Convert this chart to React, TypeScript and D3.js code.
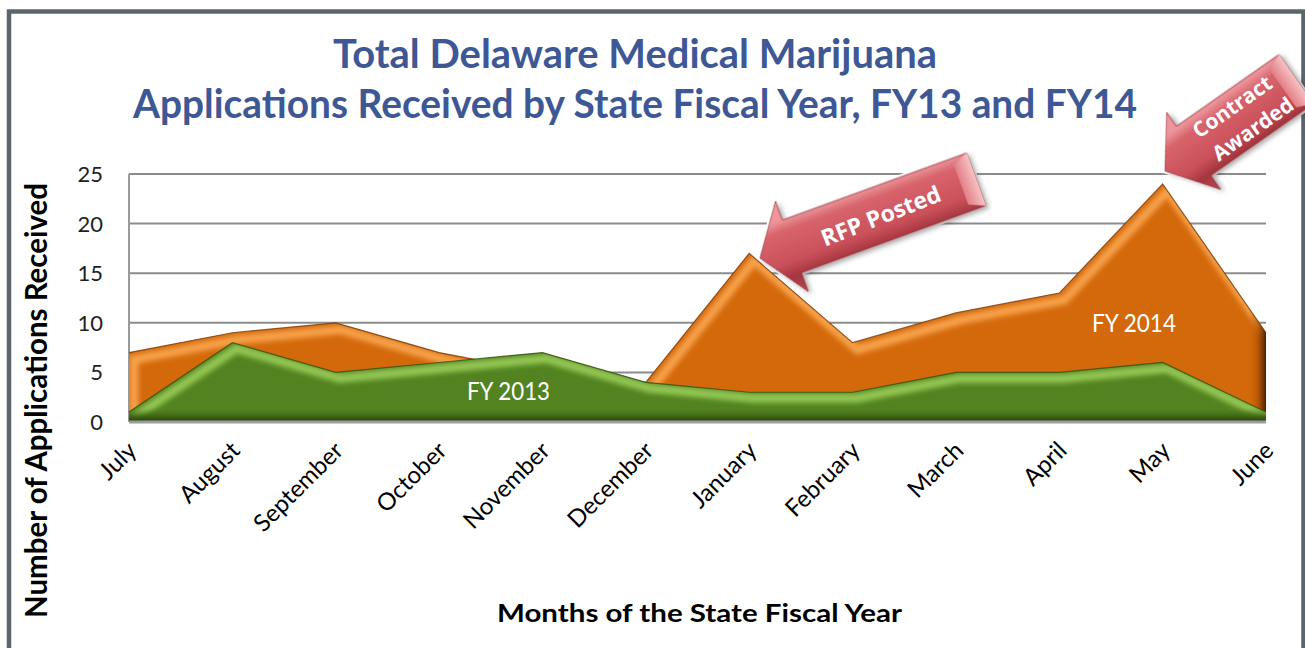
import * as d3 from "d3";

const months = [
  "July", "August", "September", "October", "November", "December",
  "January", "February", "March", "April", "May", "June",
];
const fy2013 = [1, 8, 5, 6, 7, 4, 3, 3, 5, 5, 6, 1];
const fy2014 = [7, 9, 10, 7, 5, 4, 17, 8, 11, 13, 24, 9];
const yTicks = [0, 5, 10, 15, 20, 25];
const titleLines = [
  "Total Delaware Medical Marijuana",
  "Applications Received by State Fiscal Year, FY13 and FY14",
];

const W = 1305;
const H = 648;

const x = d3.scalePoint<string>().domain(months).range([129, 1266]);
const y = d3.scaleLinear().domain([0, 25]).range([422, 174]);

const area = d3
  .area<number>()
  .x((d, i) => x(months[i])!)
  .y0(y(0))
  .y1(d => y(d));

// top edge plus the left side, used for the bevel highlight
const edge = (vals: number[]) =>
  d3.line()([[x(months[0])!, y(0)], ...vals.map((v, i) => [x(months[i])!, y(v)] as [number, number])]);

const topLine = d3
  .line<number>()
  .x((d, i) => x(months[i])!)
  .y(d => y(d));

const Arrow = ({ tx, ty, angle, len, half, barb, head, children }: any) => {
  const body = `M0,0 L${head},${-barb} L${head},${-half} L${len},${-half} L${len},${half} L${head},${half} L${head},${barb} Z`;
  const facet = `M${len - 16},${-half + 7} L${len},${-half} L${len},${half} L${len - 16},${half - 7} Z`;
  return (
    <g transform={`translate(${tx},${ty}) rotate(${angle})`}>
      <path d={body} fill="#fff" stroke="#fff" strokeWidth={5} />
      <g filter="url(#shadow)">
        <path d={body} fill="url(#arrowGrad)" stroke="#9a3640" strokeWidth={0.8} />
        <path d={facet} fill="url(#facetGrad)" />
      </g>
      {children}
    </g>
  );
};

export default function App() {
  const x0 = x(months[0])!;
  const x1 = x(months[months.length - 1])!;
  return (
    <svg
      width={W}
      height={H}
      style={{ position: "absolute", left: 0, top: 0, background: "#fff" }}
      fontFamily="Lato, 'Open Sans', sans-serif"
    >
      <defs>
        <filter id="blur" x="-5%" y="-20%" width="110%" height="140%">
          <feGaussianBlur stdDeviation="2.6" />
        </filter>
        <filter id="shadow" x="-20%" y="-30%" width="140%" height="160%">
          <feDropShadow dx="2" dy="3" stdDeviation="2.5" floodColor="#000" floodOpacity="0.35" />
        </filter>
        <clipPath id="clipOrange">
          <path d={area(fy2014)!} />
        </clipPath>
        <clipPath id="clipGreen">
          <path d={area(fy2013)!} />
        </clipPath>
        <linearGradient id="sideOrange" x1="0" y1="0" x2="1" y2="0">
          <stop offset="0" stopColor="#d4690b" stopOpacity="0" />
          <stop offset="0.55" stopColor="#a84c04" stopOpacity="0.7" />
          <stop offset="1" stopColor="#4a1f00" stopOpacity="1" />
        </linearGradient>
        <linearGradient id="bottomGreen" x1="0" y1="0" x2="0" y2="1">
          <stop offset="0" stopColor="#4d7c1b" stopOpacity="0" />
          <stop offset="0.6" stopColor="#3a5f12" stopOpacity="0.9" />
          <stop offset="1" stopColor="#243d08" stopOpacity="1" />
        </linearGradient>
        <linearGradient id="arrowGrad" x1="0" y1="0" x2="0" y2="1">
          <stop offset="0.2" stopColor="#ec959a" />
          <stop offset="0.32" stopColor="#d8646c" />
          <stop offset="0.65" stopColor="#c9505a" />
          <stop offset="0.8" stopColor="#a4363f" />
          <stop offset="1" stopColor="#b8464f" />
        </linearGradient>
        <linearGradient id="facetGrad" x1="0" y1="0" x2="1" y2="0">
          <stop offset="0" stopColor="#e27f86" />
          <stop offset="1" stopColor="#f7c0c3" />
        </linearGradient>
      </defs>

      {/* frame */}
      <rect x={9} y={11.5} width={1294.5} height={700} fill="#fff" stroke="#5b656c" strokeWidth={4.5} />

      {/* title */}
      <g fill="#3e5795" fontWeight="bold" fontSize={40} textAnchor="middle">
        <text x={635} y={68} textLength={604} lengthAdjust="spacingAndGlyphs">{titleLines[0]}</text>
        <text x={635} y={118} textLength={1004} lengthAdjust="spacingAndGlyphs">{titleLines[1]}</text>
      </g>

      {/* gridlines */}
      {yTicks.filter(t => t > 0).map(t => (
        <line key={t} x1={x0} x2={x1} y1={y(t)} y2={y(t)} stroke="#8c8c8c" strokeWidth={2} />
      ))}
      <line x1={x0} x2={x0} y1={y(25)} y2={y(0)} stroke="#9a9a9a" strokeWidth={2} />

      {/* FY 2014, back series */}
      <path d={area(fy2014)!} fill="#d4690b" />
      <g clipPath="url(#clipOrange)">
        <path d={edge(fy2014)!} transform="translate(5,7)" fill="none" stroke="#f6a04a" strokeWidth={9} filter="url(#blur)" />
        <rect x={x1 - 18} y={y(25)} width={18} height={y(0) - y(25)} fill="url(#sideOrange)" />
      </g>
      <path d={topLine(fy2014)!} fill="none" stroke="#7a3a06" strokeWidth={1.2} strokeOpacity={0.8} />

      {/* FY 2013, front series */}
      <path d={area(fy2013)!} fill="#528320" />
      <g clipPath="url(#clipGreen)">
        <path d={edge(fy2013)!} transform="translate(4,6)" fill="none" stroke="#93c653" strokeWidth={9} filter="url(#blur)" />
        <rect x={x0} y={y(0) - 14} width={x1 - x0} height={14} fill="url(#bottomGreen)" />
      </g>
      <path d={topLine(fy2013)!} fill="none" stroke="#33520c" strokeWidth={1.2} strokeOpacity={0.8} />

      {/* floor */}
      <line x1={x0} x2={x1} y1={y(0)} y2={y(0)} stroke="#9c9c9c" strokeWidth={3} />

      {/* series labels */}
      <text x={467} y={400} fill="#fff" fontSize={25} textLength={83} lengthAdjust="spacingAndGlyphs">FY 2013</text>
      <text x={1092} y={332} fill="#fff" fontSize={25} textLength={84} lengthAdjust="spacingAndGlyphs">FY 2014</text>

      {/* y axis */}
      {yTicks.map(t => (
        <text key={t} x={103} y={y(t)} dy="0.36em" textAnchor="end" fontSize={22} fill="#1e1e1e">{t}</text>
      ))}
      <text
        transform="translate(47,400.5) rotate(-90)"
        textAnchor="middle"
        fontWeight="bold"
        fontSize={30}
        fill="#000"
        textLength={435}
        lengthAdjust="spacingAndGlyphs"
      >
        Number of Applications Received
      </text>

      {/* x axis */}
      {months.map(m => (
        <text
          key={m}
          transform={`translate(${x(m)! + 9},${452}) rotate(-45)`}
          textAnchor="end"
          fontSize={24}
          fill="#000"
        >
          {m}
        </text>
      ))}
      <text x={699.5} y={622} textAnchor="middle" fontWeight="bold" fontSize={24} fill="#000" textLength={405} lengthAdjust="spacingAndGlyphs">
        Months of the State Fiscal Year
      </text>

      {/* callouts */}
      <Arrow tx={760} ty={258} angle={-20} len={230} half={28} barb={48} head={34}>
        <text x={128} y={2} dy="0.35em" textAnchor="middle" fill="#fff" fontWeight="bold" fontSize={23} fontFamily="'Open Sans', sans-serif" transform="rotate(-1.5,128,2)">
          RFP Posted
        </text>
      </Arrow>
      <Arrow tx={1165} ty={171} angle={-35} len={160} half={30} barb={47} head={35}>
        <g fill="#fff" fontWeight="bold" fontSize={21} fontFamily="'Open Sans', sans-serif" textAnchor="middle">
          <text x={92} y={-14} dy="0.35em">Contract</text>
          <text x={96} y={16} dy="0.35em">Awarded</text>
        </g>
      </Arrow>
    </svg>
  );
}
